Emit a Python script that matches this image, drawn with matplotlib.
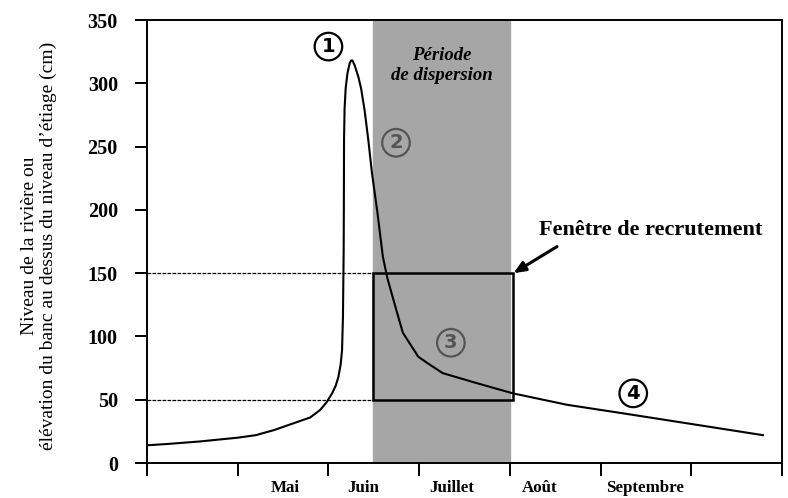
import numpy as np
import matplotlib
matplotlib.use("Agg")
from matplotlib import pyplot as plt
from matplotlib.patches import Rectangle

# x in months from the start of the axis (0..7), y in cm
curve_x = [0.0, 0.22, 0.58, 1.0, 1.2, 1.4, 1.6, 1.8, 1.91, 1.98, 2.04, 2.08, 2.11, 2.135,
           2.15, 2.16, 2.168, 2.17, 2.172, 2.178, 2.19, 2.21, 2.235, 2.25, 2.265, 2.29,
           2.33, 2.36, 2.40, 2.44, 2.48, 2.54, 2.60, 2.65, 2.74, 2.82, 2.99, 3.09, 3.26,
           3.64, 4.035, 4.63, 5.36, 6.79]
curve_y = [14, 15, 17, 20, 22, 26, 31, 36, 42, 48, 55, 61, 68, 78,
           89, 115, 168, 202, 255, 280, 296, 308, 316, 318, 318, 314,
           305, 296, 278, 255, 229, 198, 163, 146, 123, 103, 84, 79, 71,
           63, 55, 46, 38, 22]

month_labels = ["Mai", "Juin", "Juillet", "Août", "Septembre"]
month_pos = [1.52, 2.38, 3.36, 4.33, 5.49]

disp_start, disp_end = 2.49, 4.0
win_start, win_end = 2.49, 4.04
win_low, win_high = 50, 150

circles = [("1", 2.00, 329, "black"), ("2", 2.745, 253, "#555555"),
           ("3", 3.35, 95, "#555555"), ("4", 5.36, 55, "black")]

serif = "Liberation Serif"

fig = plt.figure(figsize=(7.88, 4.98), dpi=100)
ax = fig.add_axes([147/788, 35/498, 635/788, 443/498])
ax.set_xlim(0, 7)
ax.set_ylim(0, 350)

ax.axvspan(disp_start, disp_end, color="#a6a6a6", zorder=0)

# reference levels
ax.plot([0, win_start], [win_high, win_high], color="black", lw=0.9, ls=(0, (3, 1)), zorder=1)
ax.plot([0, win_start], [win_low, win_low], color="black", lw=0.9, ls=(0, (3, 1)), zorder=1)
ax.add_patch(Rectangle((win_start, win_low), win_end - win_start, win_high - win_low,
                       fill=False, ec="black", lw=1.8, zorder=2))

ax.plot(curve_x, curve_y, color="black", lw=1.5, zorder=3, solid_joinstyle="round")

for lab, x, y, c in circles:
    ax.text(x, y, lab, ha="center", va="center", fontsize=14, fontweight="bold",
            color=c, family="DejaVu Sans",
            bbox=dict(boxstyle="circle,pad=0.22", fc="none", ec=c, lw=1.6), zorder=4)

ax.text((disp_start + disp_end) / 2, 314, "Période\nde dispersion", ha="center", va="center",
        fontsize=13.5, fontstyle="italic", fontweight="bold", family=serif, linespacing=1.25)

ax.text(4.32, 184, "Fenêtre de recrutement", fontsize=16, fontweight="bold", family=serif,
        va="center", ha="left")
ax.annotate("", xy=(win_end, win_high), xytext=(4.52, 171),
            arrowprops=dict(arrowstyle="-|>,head_length=0.7,head_width=0.3", color="black",
                            lw=2.2, shrinkA=0, shrinkB=0))

ax.set_yticks(range(0, 351, 50))
ax.set_xticks(range(0, 8))
ax.set_xticklabels([])
for lab in ax.get_yticklabels():
    lab.set_family(serif)
    lab.set_fontweight("bold")
    lab.set_fontsize(14.5)
ax.tick_params(axis="both", direction="out", length=9, width=1.4)
ax.tick_params(axis="y", pad=12)
for s in ax.spines.values():
    s.set_linewidth(1.4)

for lab, x in zip(month_labels, month_pos):
    ax.text(x, -13.5, lab, ha="center", va="top", fontsize=12.2, fontweight="bold", family=serif)

ax.set_ylabel("Niveau de la rivière ou\nélévation du banc au dessus du niveau d’étiage (cm)",
              family=serif, fontsize=14, linespacing=1.15)
ax.yaxis.set_label_coords(-0.142, 0.49)

fig.savefig("out.png", dpi=100)
